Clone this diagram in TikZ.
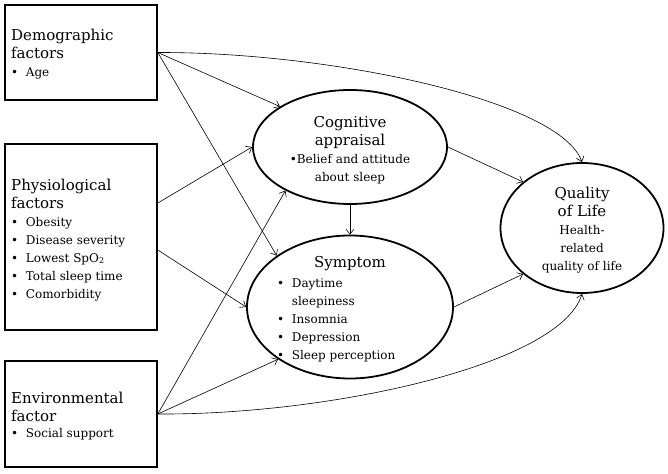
\documentclass[tikz,border=0pt]{standalone}
\usepackage{fontspec}
\setmainfont{DejaVu Serif}
\usetikzlibrary{shapes.geometric,arrows.meta}
\newcommand{\tf}{\fontsize{15}{20}\selectfont}
\newcommand{\itf}{\fontsize{12}{18}\selectfont}
\newcommand{\bul}{•\ \ }
\begin{document}
\begin{tikzpicture}[x=1pt,y=-1pt,
  box/.style={draw, line width=1.6pt, rectangle, minimum width=152pt, inner sep=0pt},
  btxt/.style={inner sep=0pt, align=left, anchor=north west, font=\itf},
  ell/.style={draw, ellipse, line width=1.8pt, inner sep=0pt},
  txt/.style={inner sep=0pt, align=center, font=\itf},
  arr/.style={-{Straight Barb[length=5pt,width=8pt]}, line width=0.6pt}]
\useasboundingbox (0,0) rectangle (668,473);
% boxes
\node[box, minimum height=95pt] (demo) at (81,52.5) {};
\node[box, minimum height=186pt] (phys) at (81,237) {};
\node[box, minimum height=106pt] (env) at (81,414) {};
\node[btxt] (demot) at (11,28.5)
  {\tf Demographic\\ \tf factors\\ \itf \bul Age};
\node[btxt] (physt) at (11,178.5)
  {\tf Physiological\\ \tf factors\\ \itf \bul Obesity\\ \itf \bul Disease severity\\ \itf \bul Lowest SpO\textsubscript{2}\\ \itf \bul Total sleep time\\ \itf \bul Comorbidity};
\node[btxt] (envt) at (11,391.5)
  {\tf Environmental\\ \tf factor\\[-2pt] \itf \bul Social support};
% ellipses
\node[ell, minimum width=194pt, minimum height=114pt] (cog) at (350,147) {};
\node[ell, minimum width=206pt, minimum height=143pt] (sym) at (350,307) {};
\node[ell, minimum width=163pt, minimum height=130pt] (qual) at (582,228) {};
% ellipse texts
\node[txt] (cogt) at (350,150) {\tf Cognitive\\ \tf appraisal\\ \itf •Belief and attitude\\ \itf about sleep};
\node[txt, font=\tf] (symt) at (350,264) {\tf Symptom};
\node[txt, align=left, anchor=north west] (syml) at (277,278)
  {\itf \bul Daytime\\ \itf \hphantom{\bul}sleepiness\\ \itf \bul Insomnia\\ \itf \bul Depression\\ \itf \bul Sleep perception};
\node[txt] (qualt) at (582,230) {\tf Quality\\ \tf of Life\\ \itf Health-\\ \itf related\\ \itf quality of life};
% arrows
\draw[arr] (demo.east) -- (cog.150);
\draw[arr] (demo.east) -- (sym.145);
\draw[arr] (demo.east) .. controls (330,52) and (560,100) .. (qual.north);
\draw[arr] ([yshift=34pt]phys.east) -- (cog.west);
\draw[arr] ([yshift=-13pt]phys.east) -- (sym.west);
\draw[arr] (env.east) -- (cog.214);
\draw[arr] (env.east) -- (sym.216);
\draw[arr] (env.east) .. controls (330,415) and (560,365) .. (qual.south);
\draw[arr] (cog.east) -- (qual.142);
\draw[arr] (sym.east) -- (qual.218);
\draw[arr] (cog.south) -- (sym.north);
\end{tikzpicture}
\end{document}
